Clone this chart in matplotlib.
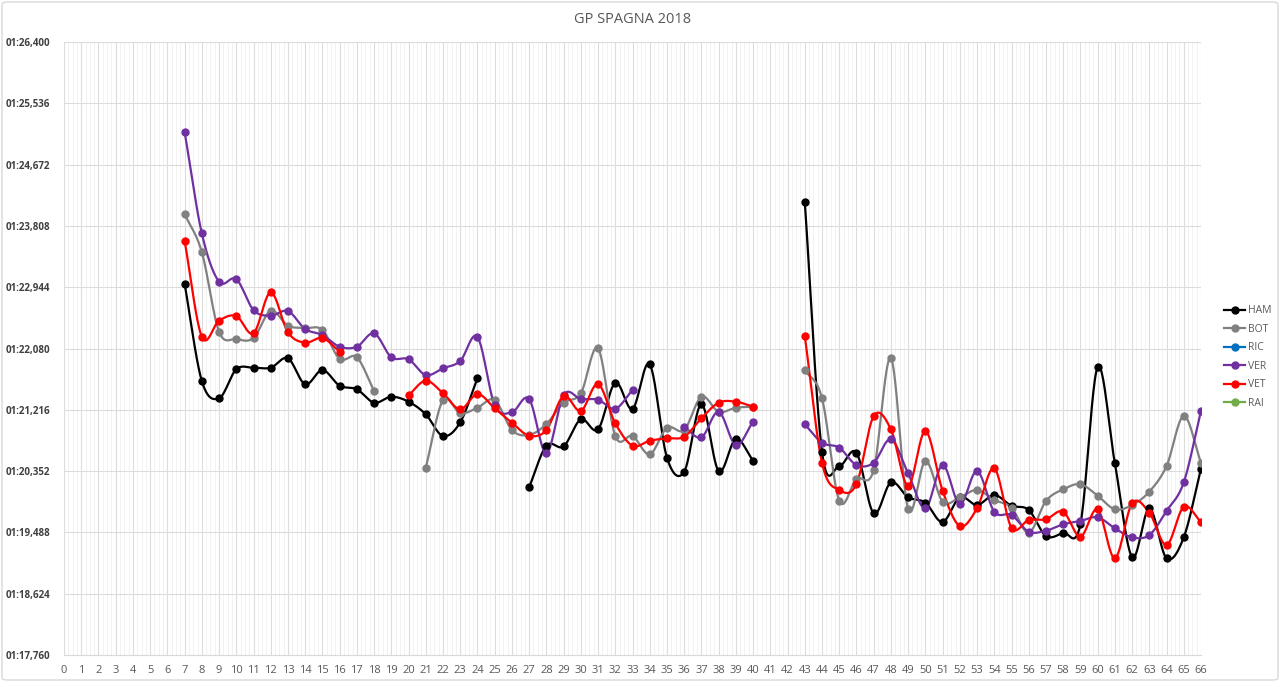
import numpy as np
import matplotlib
matplotlib.use("Agg")
import matplotlib.pyplot as plt
from matplotlib.patches import FancyBboxPatch
from matplotlib.ticker import FixedLocator, FuncFormatter

N = None
laps = list(range(0, 67))

# lap times in seconds, index = lap number (0..66)
HAM = [N]*7 + [82.993, 81.622, 81.378, 81.787, 81.809, 81.809, 81.942, 81.575, 81.777, 81.556,
               81.505, 81.316, 81.400, 81.330, 81.152, 80.847, 81.040, 81.660, N, N,
               80.124, 80.710, 80.700, 81.082, 80.941, 81.598, 81.227, 81.857, 80.541, 80.343,
               81.293, 80.353, 80.804, 80.498, N, N,
               84.149, 80.625, 80.424, 80.611, 79.757, 80.194, 79.983, 79.907, 79.635, 79.983,
               79.874, 80.015, 79.864, 79.804, 79.437, 79.484, 79.606, 81.815, 80.462, 79.141,
               79.828, 79.123, 79.419, 80.386]
BOT = [N]*7 + [83.975, 83.440, 82.317, 82.214, 82.228, 82.613, 82.401, 82.369, 82.341, 81.932,
               81.956, 81.481, N, N, 80.400, 81.354, 81.167, 81.245, 81.354, 80.931,
               80.861, 81.016, 81.316, 81.448, 82.083, 80.847, 80.847, 80.589, 80.964, 80.931,
               81.400, 81.189, 81.245, 81.260, N, N,
               81.777, 81.378, 79.935, 80.241, 80.367, 81.942, 79.818, 80.494, 79.921, 79.983,
               80.086, 79.945, 79.836, 79.484, 79.930, 80.095, 80.166, 80.005, 79.813, 79.874,
               80.062, 80.424, 81.128, 80.470]
RIC = [N]*67
VER = [N]*7 + [85.135, 83.703, 83.021, 83.059, 82.622, 82.542, 82.608, 82.355, 82.270, 82.105,
               82.105, 82.294, 81.956, 81.928, 81.706, 81.801, 81.904, 82.242, 81.284, 81.181,
               81.368, 80.603, 81.424, 81.368, 81.358, 81.231, 81.495, N, N, 80.978,
               80.828, 81.189, 80.720, 81.048, N, N,
               81.011, 80.752, 80.682, 80.438, 80.470, 80.800, 80.321, 79.828, 80.438, 79.884,
               80.353, 79.780, 79.733, 79.498, 79.512, 79.602, 79.649, 79.701, 79.546, 79.419,
               79.451, 79.790, 80.194, 81.203]
VET = [N]*7 + [83.599, 82.246, 82.472, 82.538, 82.294, 82.872, 82.308, 82.162, 82.228, 82.035,
               N, N, N, 81.420, 81.626, 81.448, 81.223, 81.439, 81.237, 81.034,
               80.851, 80.931, 81.410, 81.199, 81.579, 81.026, 80.710, 80.780, 80.814, 80.837,
               81.096, 81.316, 81.330, 81.260, N, N,
               82.260, 80.470, 80.086, 80.170, 81.128, 80.941, 80.146, 80.917, 80.076, 79.578,
               79.828, 80.391, 79.554, 79.663, 79.673, 79.780, 79.427, 79.813, 79.123, 79.898,
               79.766, 79.310, 79.850, 79.635]
RAI = [N]*67

series_names = ["HAM", "BOT", "RIC", "VER", "VET", "RAI"]
series_values = [HAM, BOT, RIC, VER, VET, RAI]
series_colors = ["#000000", "#808080", "#0070C0", "#7030A0", "#FF0000", "#70AD47"]

y_ticks = [77.760, 78.624, 79.488, 80.352, 81.216, 82.080, 82.944, 83.808, 84.672, 85.536, 86.400]
title = "GP SPAGNA 2018"


def smooth_segment(xs, ys, n=24):
    """Excel-style smoothed line (cubic Bezier, 1/6 tangents) through the points."""
    xs = np.asarray(xs, float)
    ys = np.asarray(ys, float)
    if len(xs) < 3:
        return xs, ys
    px = np.concatenate([[2 * xs[0] - xs[1]], xs, [2 * xs[-1] - xs[-2]]])
    py = np.concatenate([[2 * ys[0] - ys[1]], ys, [2 * ys[-1] - ys[-2]]])
    outx, outy = [], []
    t = np.linspace(0, 1, n, endpoint=False)
    for i in range(1, len(px) - 2):
        p0x, p1x, p2x, p3x = px[i - 1], px[i], px[i + 1], px[i + 2]
        p0y, p1y, p2y, p3y = py[i - 1], py[i], py[i + 1], py[i + 2]
        c1x = p1x + (p2x - p0x) / 6.0
        c1y = p1y + (p2y - p0y) / 6.0
        c2x = p2x - (p3x - p1x) / 6.0
        c2y = p2y - (p3y - p1y) / 6.0
        b0 = (1 - t) ** 3
        b1 = 3 * (1 - t) ** 2 * t
        b2 = 3 * (1 - t) * t ** 2
        b3 = t ** 3
        outx.append(b0 * p1x + b1 * c1x + b2 * c2x + b3 * p2x)
        outy.append(b0 * p1y + b1 * c1y + b2 * c2y + b3 * p2y)
    outx.append([xs[-1]])
    outy.append([ys[-1]])
    return np.concatenate(outx), np.concatenate(outy)


def segments(xv, yv):
    segs, cur = [], []
    for x, y in zip(xv, yv):
        if y is None:
            if cur:
                segs.append(cur)
            cur = []
        else:
            cur.append((x, y))
    if cur:
        segs.append(cur)
    return segs


def fmt_time(v, pos=None):
    ms = int(round(v * 1000))
    m = ms // 60000
    s = (ms - m * 60000) / 1000.0
    return f"{m:02d}:{s:06.3f}".replace(".", ",")


plt.rcParams['font.family'] = ['Open Sans', 'DejaVu Sans']
fig = plt.figure(figsize=(12.8, 6.82), dpi=100)
ax = fig.add_axes([64 / 1280, 1 - 655 / 682, (1201 - 64) / 1280, (655 - 42) / 682])

ax.set_xlim(0, 66)
ax.set_ylim(77.760, 86.400)

# grid
ax.xaxis.set_major_locator(FixedLocator(laps))
ax.xaxis.set_minor_locator(FixedLocator([l + f for l in laps[:-1] for f in (0.25, 0.5, 0.75)]))
ax.yaxis.set_major_locator(FixedLocator(y_ticks))
ax.yaxis.set_major_formatter(FuncFormatter(fmt_time))
ax.grid(True, which='major', axis='both', color='#DCDCDC', linewidth=0.8, zorder=0)
ax.grid(True, which='minor', axis='x', color='#F2F2F2', linewidth=0.7, zorder=0)
ax.set_axisbelow(True)
for side in ['top', 'right', 'left']:
    ax.spines[side].set_visible(False)
ax.spines['bottom'].set_color('#D9D9D9')
ax.tick_params(axis='both', which='both', length=0)
ax.tick_params(axis='x', labelsize=8, labelcolor='#595959', pad=7)
ax.tick_params(axis='y', labelsize=7, labelcolor='#404040', pad=10)
for lab in ax.get_yticklabels():
    lab.set_fontweight('bold')

for name, vals, col in zip(series_names, series_values, series_colors):
    for seg in segments(laps, vals):
        xs = [p[0] for p in seg]
        ys = [p[1] for p in seg]
        sx, sy = smooth_segment(xs, ys)
        ax.plot(sx, sy, color=col, linewidth=1.6, zorder=3, solid_capstyle='round')
        ax.plot(xs, ys, linestyle='none', marker='o', markersize=5, color=col, zorder=4)
    ax.plot([], [], color=col, linewidth=1.6, marker='o', markersize=5, label=name)

ax.set_title(title, fontsize=10.5, color='#595959', pad=14)

leg = fig.legend(loc='upper left', bbox_to_anchor=(1215 / 1280, 1 - 296 / 682), frameon=False,
                 fontsize=7.5, handlelength=2.0, labelspacing=0.72, handletextpad=0.3,
                 labelcolor='#595959')

border = FancyBboxPatch((2 / 1280, 2 / 682), 1 - 4 / 1280, 1 - 4 / 682, transform=fig.transFigure,
                        boxstyle='round,pad=0,rounding_size=0.004', fill=False,
                        edgecolor='#D9D9D9', linewidth=1.0)
fig.patches.append(border)

fig.savefig("out.png", dpi=100)
